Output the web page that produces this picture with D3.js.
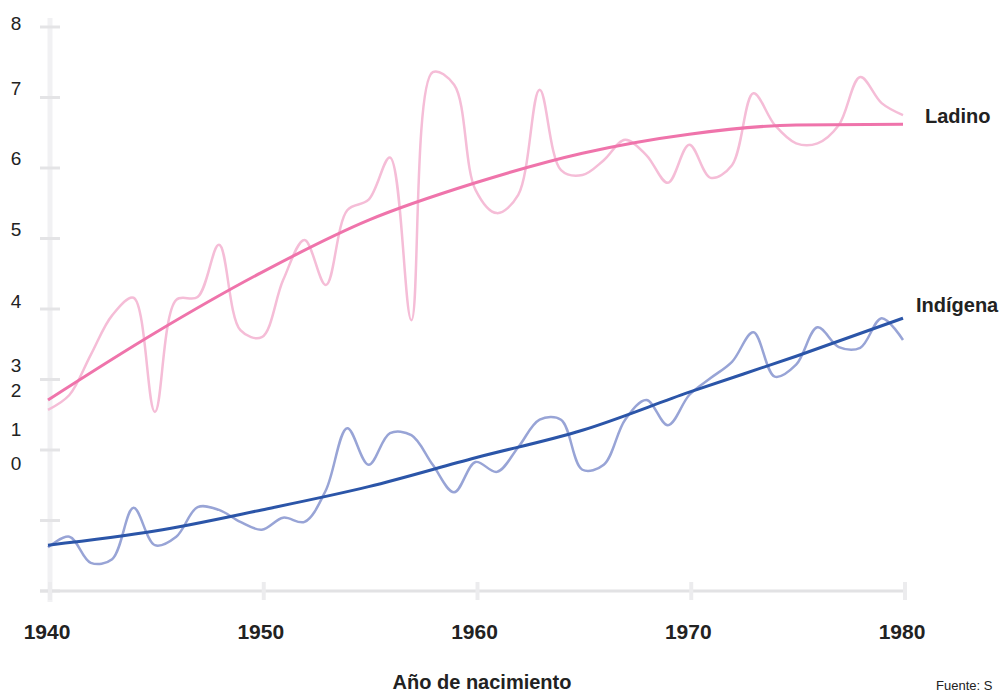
<!DOCTYPE html>
<html>
<head>
<meta charset="utf-8">
<script src="https://cdn.jsdelivr.net/npm/d3@7"></script>
<style>
  body { margin: 0; background: #fff; }
  svg { display: block; font-family: "Liberation Sans", Arial, sans-serif; }
</style>
</head>
<body>
<svg id="chart" width="1005" height="692"></svg>
<script>
var years = d3.range(1940, 1981);
var xTicks = [1940, 1950, 1960, 1970, 1980];
var yTicks = [0, 1, 2, 3, 4, 5, 6, 7, 8];

var ladinoRaw = [2.57, 2.78, 3.35, 3.91, 4.16, 2.54, 4.13, 4.17, 4.91, 3.70,
                 3.60, 4.41, 4.98, 4.34, 5.40, 5.55, 6.15, 3.84, 7.36, 7.18,
                 5.69, 5.36, 5.62, 7.11, 5.97, 5.90, 6.11, 6.40, 6.18, 5.79,
                 6.33, 5.86, 6.04, 7.06, 6.61, 6.35, 6.35, 6.61, 7.29, 6.92, 6.75];
var indigenaRaw = [0.62, 0.77, 0.40, 0.45, 1.18, 0.65, 0.77, 1.19, 1.15, 0.98,
                   0.87, 1.04, 0.98, 1.43, 2.31, 1.79, 2.24, 2.21, 1.79, 1.40,
                   1.83, 1.69, 2.04, 2.43, 2.43, 1.72, 1.79, 2.43, 2.71, 2.35,
                   2.78, 3.02, 3.25, 3.67, 3.04, 3.21, 3.74, 3.46, 3.45, 3.87, 3.56];

var trendYears = [1940, 1945, 1950, 1955, 1960, 1965, 1970, 1975, 1980];
var ladinoTrend = [2.71, 3.66, 4.52, 5.26, 5.79, 6.21, 6.48, 6.61, 6.62];
var indigenaTrend = [0.65, 0.85, 1.15, 1.48, 1.89, 2.28, 2.82, 3.33, 3.87];

var svg = d3.select("#chart");

var x = d3.scaleLinear().domain([1940, 1980]).range([48, 903]);
var y = d3.scaleLinear().domain([0, 8]).range([591, 27]);

// the original has its lower y labels pushed upward, keep that look
var labelShift = {8: 3, 7: -3, 6: -3, 5: -3, 4: -1, 3: -8, 2: -53, 1: -85, 0: -121};

// vertical axis
svg.append("line")
    .attr("x1", 50).attr("x2", 50)
    .attr("y1", 18).attr("y2", 602)
    .attr("stroke", "#f1f1f3")
    .attr("stroke-width", 5);

svg.selectAll(".ytick")
    .data(yTicks)
    .enter()
    .append("line")
    .attr("class", "ytick")
    .attr("x1", 40).attr("x2", 60)
    .attr("y1", function(d) { return y(d); })
    .attr("y2", function(d) { return y(d); })
    .attr("stroke", "#e4e4e6")
    .attr("stroke-width", 3);

svg.selectAll(".ylabel")
    .data(yTicks)
    .enter()
    .append("text")
    .attr("class", "ylabel")
    .attr("x", 16)
    .attr("y", function(d) { return y(d) + labelShift[d]; })
    .attr("text-anchor", "middle")
    .attr("font-size", "19px")
    .attr("fill", "#222")
    .text(function(d) { return d; });

// horizontal axis
svg.append("line")
    .attr("x1", 40).attr("x2", 905)
    .attr("y1", 591).attr("y2", 591)
    .attr("stroke", "#e2e2e4")
    .attr("stroke-width", 3);

svg.selectAll(".xtick")
    .data(xTicks)
    .enter()
    .append("line")
    .attr("class", "xtick")
    .attr("x1", function(d) { return x(d) + 2; })
    .attr("x2", function(d) { return x(d) + 2; })
    .attr("y1", 582).attr("y2", 600)
    .attr("stroke", "#ececee")
    .attr("stroke-width", 4);

svg.selectAll(".xlabel")
    .data(xTicks)
    .enter()
    .append("text")
    .attr("class", "xlabel")
    .attr("x", function(d) { return x(d) - 1; })
    .attr("y", 639)
    .attr("text-anchor", "middle")
    .attr("font-size", "21px")
    .attr("font-weight", "bold")
    .attr("fill", "#222")
    .text(function(d) { return d; });

// lines
var rawLine = d3.line()
    .x(function(d, i) { return x(years[i]); })
    .y(function(d) { return y(d); })
    .curve(d3.curveCatmullRom.alpha(0.5));

var trendLine = d3.line()
    .x(function(d, i) { return x(trendYears[i]); })
    .y(function(d) { return y(d); })
    .curve(d3.curveMonotoneX);

svg.append("path")
    .datum(ladinoRaw)
    .attr("fill", "none")
    .attr("stroke", "#f5bdd7")
    .attr("stroke-width", 2.5)
    .attr("d", rawLine);

svg.append("path")
    .datum(indigenaRaw)
    .attr("fill", "none")
    .attr("stroke", "#98a4d6")
    .attr("stroke-width", 2.5)
    .attr("d", rawLine);

svg.append("path")
    .datum(ladinoTrend)
    .attr("fill", "none")
    .attr("stroke", "#ef74ab")
    .attr("stroke-width", 3)
    .attr("d", trendLine);

svg.append("path")
    .datum(indigenaTrend)
    .attr("fill", "none")
    .attr("stroke", "#2b55a8")
    .attr("stroke-width", 3)
    .attr("d", trendLine);

// series labels
svg.append("text")
    .attr("x", 925).attr("y", 123)
    .attr("font-size", "20px")
    .attr("font-weight", "bold")
    .attr("fill", "#222")
    .text("Ladino");

svg.append("text")
    .attr("x", 916).attr("y", 312)
    .attr("font-size", "20px")
    .attr("font-weight", "bold")
    .attr("fill", "#222")
    .text("Indígena");

svg.append("text")
    .attr("x", 482).attr("y", 689)
    .attr("text-anchor", "middle")
    .attr("font-size", "20px")
    .attr("font-weight", "bold")
    .attr("fill", "#222")
    .text("Año de nacimiento");

svg.append("text")
    .attr("x", 936).attr("y", 690)
    .attr("font-size", "13px")
    .attr("fill", "#222")
    .text("Fuente: S");
</script>
</body>
</html>
